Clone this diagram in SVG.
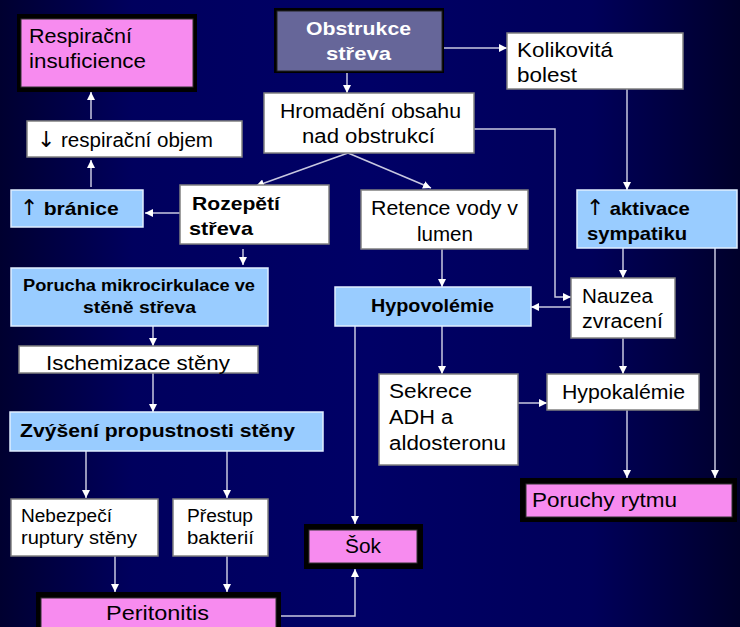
<svg xmlns="http://www.w3.org/2000/svg" width="740" height="627" viewBox="0 0 740 627">
<defs>
<linearGradient id="bg" x1="0" y1="0" x2="1" y2="0">
<stop offset="0" stop-color="#000030"/>
<stop offset="0.18" stop-color="#00005e"/>
<stop offset="0.5" stop-color="#000066"/>
<stop offset="0.8" stop-color="#00005a"/>
<stop offset="1" stop-color="#00002a"/>
</linearGradient>
<marker id="ah" markerWidth="8" markerHeight="8" refX="8" refY="4" orient="auto" markerUnits="userSpaceOnUse">
<path d="M0,0 L8,4 L0,8 Z" fill="#ffffff"/>
</marker>
<style>
.w{fill:#ffffff;stroke:#808080;stroke-width:1.5}
.b{fill:#99ccff;stroke:#e0eeff;stroke-width:1.5}
.p{fill:#f78bef;stroke:#333;stroke-width:1}
.f{fill:#000000}
.s{fill:#666699;stroke:#222;stroke-width:1}
.t{font-family:"Liberation Sans","DejaVu Sans",sans-serif;font-size:20px;fill:#000}
.tb{font-family:"Liberation Sans","DejaVu Sans",sans-serif;font-size:19px;font-weight:bold;fill:#000}
.tw{font-family:"Liberation Sans","DejaVu Sans",sans-serif;font-size:19px;font-weight:bold;fill:#fff}
.ar{font-family:"DejaVu Sans",sans-serif;font-size:22px;font-weight:normal}
.c{fill:none;stroke:#c8c8e0;stroke-width:1.5}
</style>
</defs>
<rect width="740" height="627" fill="url(#bg)"/>

<g id="connectors">
<path class="c" d="M91,119 L91,92" marker-end="url(#ah)"/>
<path class="c" d="M91,187 L91,160" marker-end="url(#ah)"/>
<path class="c" d="M180,213 L145,213" marker-end="url(#ah)"/>
<path class="c" d="M243,249 L243,265" marker-end="url(#ah)"/>
<path class="c" d="M153,326 L153,346" marker-end="url(#ah)"/>
<path class="c" d="M153,373 L153,412" marker-end="url(#ah)"/>
<path class="c" d="M86,451 L86,498" marker-end="url(#ah)"/>
<path class="c" d="M227,451 L227,498" marker-end="url(#ah)"/>
<path class="c" d="M115,556 L115,592" marker-end="url(#ah)"/>
<path class="c" d="M227,556 L227,592" marker-end="url(#ah)"/>
<path class="c" d="M276,616 L355,616 L355,569" marker-end="url(#ah)"/>
<path class="c" d="M355,326 L355,524" marker-end="url(#ah)"/>
<path class="c" d="M347,73 L347,93" marker-end="url(#ah)"/>
<path class="c" d="M444,48 L507,48" marker-end="url(#ah)"/>
<path class="c" d="M348,153 L256,186" marker-end="url(#ah)"/>
<path class="c" d="M348,153 L431,188" marker-end="url(#ah)"/>
<path class="c" d="M474,129 L555,129 L555,297 L571,297" marker-end="url(#ah)"/>
<path class="c" d="M627,89 L627,190" marker-end="url(#ah)"/>
<path class="c" d="M623,248 L623,278" marker-end="url(#ah)"/>
<path class="c" d="M715,248 L715,478" marker-end="url(#ah)"/>
<path class="c" d="M442,249 L442,287" marker-end="url(#ah)"/>
<path class="c" d="M571,307 L531,307" marker-end="url(#ah)"/>
<path class="c" d="M442,326 L442,374" marker-end="url(#ah)"/>
<path class="c" d="M623,338 L623,374" marker-end="url(#ah)"/>
<path class="c" d="M518,403 L547,403" marker-end="url(#ah)"/>
<path class="c" d="M627,410 L627,478" marker-end="url(#ah)"/>
</g>

<g id="respiracni-insuficience">
<rect class="f" x="17" y="14" width="180" height="78"/>
<rect class="p" x="21" y="19" width="172" height="68"/>
<text class="t" x="29" y="43" textLength="103" lengthAdjust="spacingAndGlyphs">Respirační</text>
<text class="t" x="29" y="68" textLength="117" lengthAdjust="spacingAndGlyphs">insuficience</text>
</g>

<g id="respiracni-objem">
<rect class="w" x="27" y="121" width="215" height="36"/>
<text class="t" x="37" y="147"><tspan class="ar">↓</tspan> <tspan textLength="152" lengthAdjust="spacingAndGlyphs">respirační objem</tspan></text>
</g>

<g id="branice">
<rect class="b" x="11" y="190" width="132" height="37"/>
<text class="tb" x="20" y="215"><tspan class="ar">↑</tspan> <tspan textLength="75" lengthAdjust="spacingAndGlyphs">bránice</tspan></text>
</g>

<g id="rozepeti">
<rect class="w" x="180" y="185" width="149" height="59"/>
<text class="tb" x="192" y="210" textLength="88" lengthAdjust="spacingAndGlyphs">Rozepětí</text>
<text class="tb" x="189" y="235" textLength="64" lengthAdjust="spacingAndGlyphs">střeva</text>
</g>

<g id="porucha-mikrocirkulace">
<rect class="b" x="11" y="268" width="257" height="58"/>
<text class="tb" x="23" y="291" style="font-size:16px" textLength="232" lengthAdjust="spacingAndGlyphs">Porucha mikrocirkulace ve</text>
<text class="tb" x="83" y="313" style="font-size:16px" textLength="113" lengthAdjust="spacingAndGlyphs">stěně střeva</text>
</g>

<g id="ischemizace">
<rect class="w" x="19" y="346" width="239" height="27"/>
<text class="t" x="46" y="370" textLength="184" lengthAdjust="spacingAndGlyphs">Ischemizace stěny</text>
</g>

<g id="zvyseni-propustnosti">
<rect class="b" x="10" y="412" width="313" height="39"/>
<text class="tb" x="20" y="437" textLength="275" lengthAdjust="spacingAndGlyphs">Zvýšení propustnosti stěny</text>
</g>

<g id="nebezpeci-ruptury">
<rect class="w" x="11" y="499" width="147" height="57"/>
<text class="t" x="21" y="522" style="font-size:18px" textLength="91" lengthAdjust="spacingAndGlyphs">Nebezpečí</text>
<text class="t" x="21" y="544" style="font-size:18px" textLength="116" lengthAdjust="spacingAndGlyphs">ruptury stěny</text>
</g>

<g id="prestup-bakterii">
<rect class="w" x="173" y="499" width="95" height="57"/>
<text class="t" x="187" y="522" style="font-size:18px" textLength="66" lengthAdjust="spacingAndGlyphs">Přestup</text>
<text class="t" x="187" y="544" style="font-size:18px" textLength="67" lengthAdjust="spacingAndGlyphs">bakterií</text>
</g>

<g id="peritonitis">
<rect class="f" x="36" y="592" width="245" height="40"/>
<rect class="p" x="41" y="598" width="235" height="34"/>
<text class="t" x="106" y="620" textLength="103" lengthAdjust="spacingAndGlyphs">Peritonitis</text>
</g>

<g id="sok">
<rect class="f" x="304" y="524" width="119" height="45"/>
<rect class="p" x="309" y="530" width="108" height="33"/>
<text class="t" x="345" y="553" textLength="36" lengthAdjust="spacingAndGlyphs">Šok</text>
</g>

<g id="obstrukce">
<rect class="f" x="274" y="8" width="170" height="65"/>
<rect class="s" x="277" y="11" width="165" height="60"/>
<text class="tw" x="306" y="35" textLength="105" lengthAdjust="spacingAndGlyphs">Obstrukce</text>
<text class="tw" x="326" y="60" textLength="65" lengthAdjust="spacingAndGlyphs">střeva</text>
</g>

<g id="hromadeni">
<rect class="w" x="264" y="93" width="210" height="60"/>
<text class="t" x="280" y="118" textLength="181" lengthAdjust="spacingAndGlyphs">Hromadění obsahu</text>
<text class="t" x="302" y="143" textLength="133" lengthAdjust="spacingAndGlyphs">nad obstrukcí</text>
</g>

<g id="kolikovita-bolest">
<rect class="w" x="507" y="33" width="176" height="56"/>
<text class="t" x="517" y="57" textLength="96" lengthAdjust="spacingAndGlyphs">Kolikovitá</text>
<text class="t" x="517" y="82" textLength="60" lengthAdjust="spacingAndGlyphs">bolest</text>
</g>

<g id="aktivace-sympatiku">
<rect class="b" x="577" y="190" width="160" height="58"/>
<text class="tb" x="586" y="215"><tspan class="ar">↑</tspan> <tspan textLength="80" lengthAdjust="spacingAndGlyphs">aktivace</tspan></text>
<text class="tb" x="587" y="240" textLength="100" lengthAdjust="spacingAndGlyphs">sympatiku</text>
</g>

<g id="retence-vody">
<rect class="w" x="361" y="190" width="167" height="59"/>
<text class="t" x="371" y="215" textLength="147" lengthAdjust="spacingAndGlyphs">Retence vody v</text>
<text class="t" x="417" y="241" textLength="56" lengthAdjust="spacingAndGlyphs">lumen</text>
</g>

<g id="hypovolemie">
<rect class="b" x="335" y="287" width="196" height="39"/>
<text class="tb" x="371" y="312" textLength="123" lengthAdjust="spacingAndGlyphs">Hypovolémie</text>
</g>

<g id="nauzea-zvraceni">
<rect class="w" x="571" y="278" width="104" height="60"/>
<text class="t" x="582" y="303" textLength="71" lengthAdjust="spacingAndGlyphs">Nauzea</text>
<text class="t" x="582" y="328" textLength="81" lengthAdjust="spacingAndGlyphs">zvracení</text>
</g>

<g id="sekrece-adh">
<rect class="w" x="379" y="374" width="139" height="91"/>
<text class="t" x="389" y="398" textLength="83" lengthAdjust="spacingAndGlyphs">Sekrece</text>
<text class="t" x="389" y="424" textLength="64" lengthAdjust="spacingAndGlyphs">ADH a</text>
<text class="t" x="389" y="450" textLength="117" lengthAdjust="spacingAndGlyphs">aldosteronu</text>
</g>

<g id="hypokalemie">
<rect class="w" x="547" y="374" width="152" height="36"/>
<text class="t" x="562" y="399" textLength="123" lengthAdjust="spacingAndGlyphs">Hypokalémie</text>
</g>

<g id="poruchy-rytmu">
<rect class="f" x="520" y="478" width="217" height="44"/>
<rect class="p" x="526" y="484" width="206" height="33"/>
<text class="t" x="532" y="507" textLength="145" lengthAdjust="spacingAndGlyphs">Poruchy rytmu</text>
</g>
</svg>
